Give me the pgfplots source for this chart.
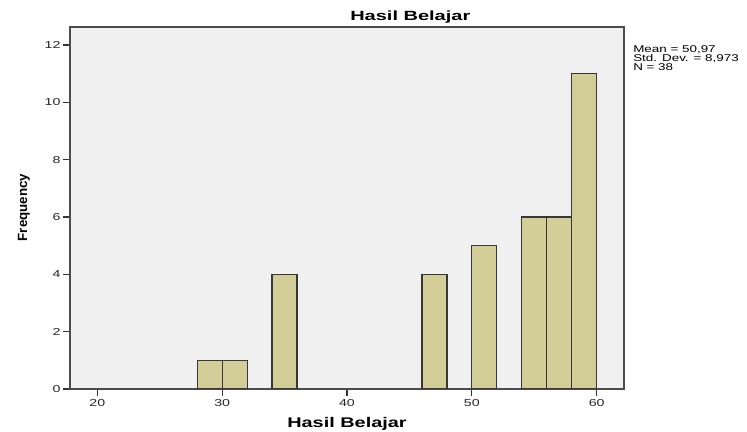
\documentclass[border=0pt]{standalone}
\usepackage{fontspec}
\setmainfont{Liberation Sans}
\usepackage{pgfplots}
\pgfplotsset{compat=1.18}
\usepackage{graphicx}
\definecolor{barfill}{RGB}{211,206,152}
\definecolor{bgc}{RGB}{240,240,240}
\definecolor{edge}{RGB}{55,55,55}
\newcommand{\W}[1]{\scalebox{1.4}[1]{#1}}
\begin{document}
\begin{tikzpicture}
\useasboundingbox (-52.5pt,-32.25pt) rectangle ++(560.25pt,324pt);
\begin{axis}[
 at={(0,0)}, anchor=south west, scale only axis,
 width=415.5pt, height=271.5pt,
 xmin=17.81, xmax=62.19, ymin=0, ymax=12.63,
 axis background/.style={fill=bgc},
 axis line style={draw=black!70, line width=0.85pt},
 tick align=outside, xtick pos=bottom, ytick pos=left,
 major tick length=5.5pt,
 tick style={draw=black!80, line width=0.85pt},
 xtick={20,30,40,50,60},
 xticklabels={\W{20},\W{30},\W{40},\W{50},\W{60}},
 ytick={0,2,4,6,8,10,12},
 yticklabels={\W{0},\W{2},\W{4},\W{6},\W{8},\W{10},\W{12}},
 tick label style={font=\fontsize{7.6}{9}\selectfont, text=black!85},
 yticklabel style={inner sep=1.5pt},
 xticklabel style={inner sep=2pt},
 title={\scalebox{1.5}[1]{Hasil Belajar}},
 title style={font=\fontsize{10}{12}\selectfont\bfseries, inner sep=0pt,
   at={(axis description cs:0.5054,0.9945)}, anchor=base west},
 xlabel={\scalebox{1.42}[1]{Hasil Belajar}},
 xlabel style={font=\fontsize{10.5}{12}\selectfont\bfseries, inner sep=0pt,
   at={(axis description cs:0.5,-0.1077)}, anchor=base},
 ylabel={Frequency},
 ylabel style={font=\fontsize{10}{12}\selectfont\bfseries, inner sep=0pt,
   at={(axis description cs:-0.0775,0.5014)}, anchor=base},
]
\addplot[ybar, bar width=2, fill=barfill, draw=edge, line width=0.95pt]
  coordinates {(29,1)(31,1)(35,4)(47,4)(51,5)(55,6)(57,6)(59,11)};
\end{axis}
\node[anchor=base west, font=\fontsize{7.4}{9}\selectfont, inner sep=0pt] at (422.25pt,252pt) {\scalebox{1.36}[1]{Mean = 50,97}};
\node[anchor=base west, font=\fontsize{7.4}{9}\selectfont, inner sep=0pt] at (422.25pt,245.25pt) {\scalebox{1.36}[1]{Std. Dev. = 8,973}};
\node[anchor=base west, font=\fontsize{7.4}{9}\selectfont, inner sep=0pt] at (422.25pt,238.5pt) {\scalebox{1.36}[1]{N = 38}};
\end{tikzpicture}
\end{document}
